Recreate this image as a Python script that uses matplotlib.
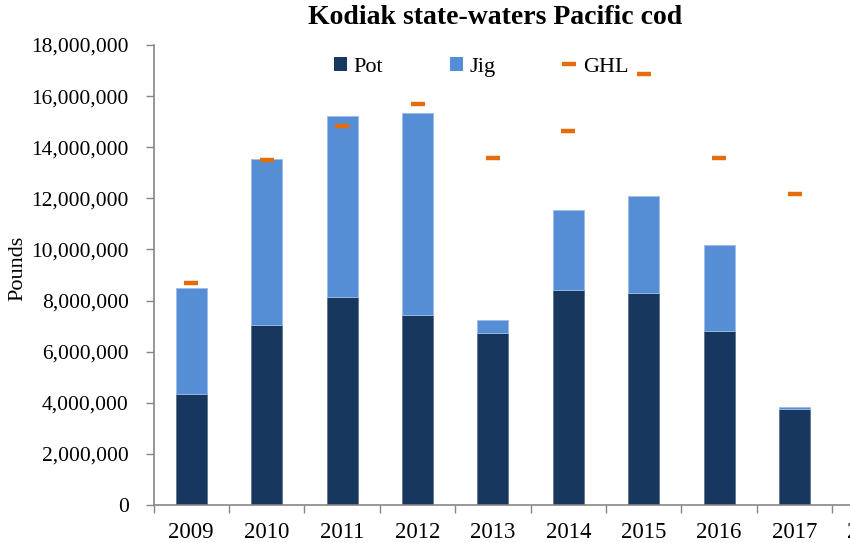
import numpy as np
import matplotlib
matplotlib.use("Agg")
import matplotlib.pyplot as plt
from matplotlib.patches import Patch
from matplotlib.lines import Line2D
from matplotlib.ticker import FuncFormatter

# =========================
# DATA (pounds)
# =========================
years = ["2009", "2010", "2011", "2012", "2013", "2014", "2015", "2016", "2017", "2018"]
pot = [4340000, 7040000, 8130000, 7430000, 6720000, 8410000, 8310000, 6820000, 3740000]
jig = [4140000, 6500000, 7100000, 7920000, 520000, 3140000, 3770000, 3340000, 110000]
ghl = [8670000, 13500000, 14830000, 15680000, 13570000, 14620000, 16880000, 13570000, 12170000]

# =========================
# STYLE
# =========================
plt.rcParams.update({
    "font.family": ["Liberation Serif", "DejaVu Serif"],
    "font.size": 16,
})

c_pot = "#17375E"
c_jig = "#558ED5"
c_ghl = "#E46C0A"
c_axis = "#868686"

fig = plt.figure(figsize=(8.5, 5.43), dpi=100)
# axes runs past the right edge, as in the cropped original
ax = fig.add_axes([153.6 / 850, 1 - 505 / 543, 754 / 850, 460 / 543])

x = np.arange(len(pot))
w = 0.41

ax.bar(x, pot, width=w, color=c_pot, edgecolor="#5F7286", linewidth=0.6, zorder=2)
ax.bar(x, jig, width=w, bottom=pot, color=c_jig, edgecolor="#9DBDE6", linewidth=0.6, zorder=2)
ax.plot(x, ghl, linestyle="none", marker="_", markersize=10.5,
        markeredgewidth=3.2, color=c_ghl, zorder=3)

# =========================
# AXES
# =========================
ax.set_xlim(-0.5, len(years) - 0.5)
ax.set_ylim(0, 18000000)
ax.set_yticks(np.arange(0, 18000001, 2000000))
ax.yaxis.set_major_formatter(FuncFormatter(lambda v, p: f"{int(v):,}"))

ax.set_xticks(np.arange(len(years)))
ax.set_xticklabels(years)
ax.set_xticks(np.arange(len(years) + 1) - 0.5, minor=True)
ax.tick_params(axis="x", which="major", length=0, pad=12, labelsize=16.5)
ax.tick_params(axis="x", which="minor", length=6, width=1, color=c_axis)
ax.tick_params(axis="y", length=6, width=1, color=c_axis, pad=12, labelsize=15.5)

for s in ["top", "right"]:
    ax.spines[s].set_visible(False)
for s in ["left", "bottom"]:
    ax.spines[s].set_color(c_axis)
    ax.spines[s].set_linewidth(1.2)

# =========================
# TEXT
# =========================
fig.text(495 / 850, 1 - 18 / 543, "Kodiak state-waters Pacific cod",
         ha="center", va="center", fontsize=20, fontweight="bold")
fig.text(18 / 850, 1 - 268 / 543, "Pounds", rotation=90,
         ha="center", va="center", fontsize=16)

handles = [
    Patch(facecolor=c_pot, label="Pot"),
    Patch(facecolor=c_jig, label="Jig"),
    Line2D([], [], linestyle="none", marker="_", markersize=10,
           markeredgewidth=3.2, color=c_ghl, label="GHL"),
]
fig.legend(handles=handles, loc="center", ncol=3, frameon=False,
           bbox_to_anchor=(481 / 850, 1 - 67 / 543), fontsize=16,
           handlelength=0.6, handleheight=0.6, handletextpad=0.3,
           columnspacing=3.0)

plt.savefig("out.png", dpi=100)
